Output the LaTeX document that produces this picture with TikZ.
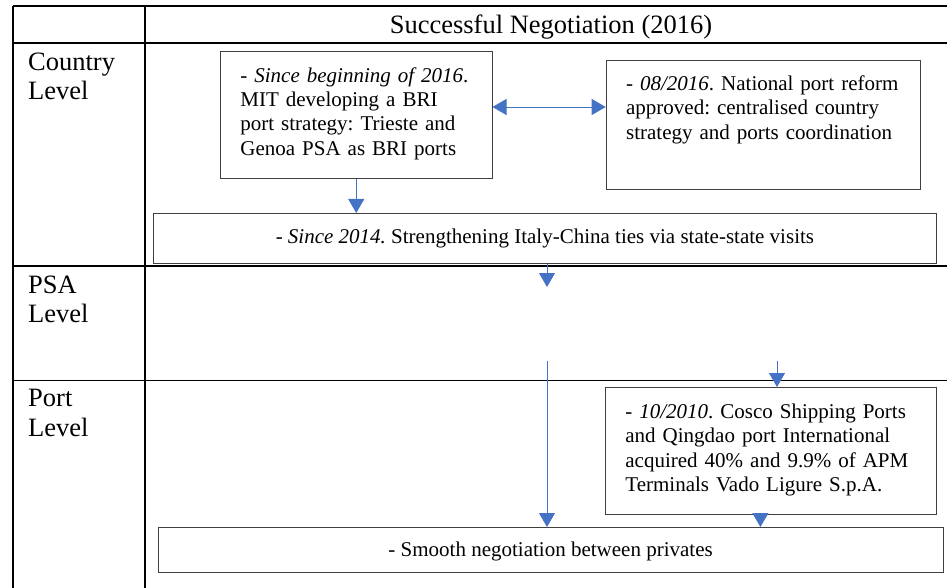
\documentclass[tikz,border=0pt]{standalone}
\usepackage{fontspec}
\setmainfont{Liberation Serif}
\usetikzlibrary{arrows.meta}
\definecolor{linkblue}{HTML}{4472C4}
\frenchspacing

\begin{document}
\begin{tikzpicture}[x=1pt,y=-1pt,
	>={Triangle[width=16pt,length=14pt]},
	grid/.style={line width=1.3pt},
	level/.style={anchor=north west,inner sep=0pt,text width=110pt,align=left,text height=20pt,font=\fontsize{26.5}{29.5}\selectfont},
	event/.style={draw=black!75,line width=0.8pt,anchor=north west,inner xsep=20pt,inner ysep=0pt,align=left,font=\fontsize{21}{24.4}\selectfont},
	wide/.style={draw=black!75,line width=0.8pt,anchor=north west,inner sep=0pt,align=center,font=\fontsize{21}{24.4}\selectfont},
	link/.style={draw=linkblue,line width=0.8pt,->}]
	\useasboundingbox (0,0) rectangle (947,588);

	% table
	\draw[grid] (13,6) -- (947,6);
	\draw[grid] (13,43) -- (947,43);
	\draw[grid] (13,266) -- (947,266);
	\draw[grid] (13,380.7) -- (947,380.7);
	\draw[grid] (13,6) -- (13,588);
	\draw[grid] (145,6) -- (145,588);

	\node[font=\fontsize{26.5}{29.5}\selectfont] (title) at (551,27) {Successful Negotiation (2016)};
	\node[level] (country) at (28,50) {Country\\Level};
	\node[level] (psa) at (28,273) {PSA\\Level};
	\node[level] (port) at (28,386.7) {Port\\Level};

	% country level
	\node[event,text width=231.7pt,text height=30.7pt,text depth=96.3pt] (mit) at (220,51)
		{- \emph{Since beginning of 2016}.\\MIT developing a BRI\\port strategy: Trieste and\\Genoa PSA as BRI ports};
	\node[event,text width=274pt,text height=30pt,text depth=99pt] (reform) at (605.7,60)
		{- \emph{08/2016}. National port reform\\approved: centralised country\\strategy and ports coordination};
	\node[wide,minimum width=783pt,minimum height=50pt] (ties) at (153,213)
		{- \emph{Since 2014.} Strengthening Italy-China ties via state-state visits};

	% port level
	\node[event,text width=291pt,text height=31pt,text depth=96pt] (cosco) at (605,387)
		{- \emph{10/2010}. Cosco Shipping Ports\\and Qingdao port International\\acquired 40\% and 9.9\% of APM\\Terminals Vado Ligure S.p.A.};
	\node[wide,minimum width=785pt,minimum height=45pt,text height=15pt,text depth=2pt] (privates) at (157.7,527)
		{- Smooth negotiation between privates};

	\coordinate (toPsa) at (547,287);
	\coordinate (toPrivates) at (547,360.7);
	\coordinate (toCosco) at (777,360.7);

	\draw[link] (mit.south) -- (mit.south |- ties.north);
	\draw[link,<->] (mit.east |- 0,107) -- (reform.west |- 0,107);
	\draw[link] (ties.south -| toPsa) -- (toPsa);
	\draw[link] (toPrivates) -- (toPrivates |- privates.north);
	\draw[link] (toCosco) -- (toCosco |- cosco.north);
	\draw[link] ([xshift=-10.5pt]cosco.south) -- ([xshift=-10.5pt]cosco.south |- privates.north);
\end{tikzpicture}
\end{document}
